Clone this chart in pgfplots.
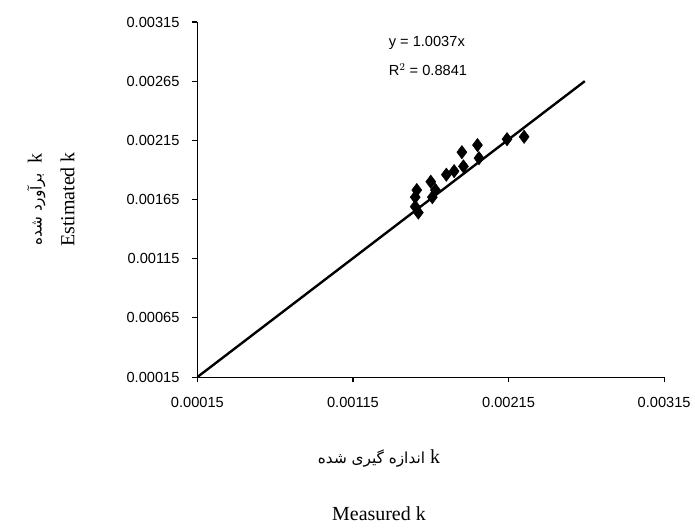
\documentclass[border=0pt]{standalone}
\usepackage{pgfplots}
\pgfplotsset{compat=1.18}
\usepackage{fontspec}
\setmainfont{Liberation Sans}
\newfontfamily\serif{Liberation Serif}
\newfontfamily\arabicfont[Script=Arabic]{DejaVu Sans}
\TeXXeTstate=1
\begin{document}
\begin{tikzpicture}
\begin{axis}[
  scale only axis, width=351pt, height=267pt,
  xmin=0.00015, xmax=0.00315, ymin=0.00015, ymax=0.00315,
  scaled ticks=false,
  axis lines=left, axis line style={-, thick},
  xtick={0.00015,0.00115,0.00215,0.00315},
  ytick={0.00015,0.00065,0.00115,0.00165,0.00215,0.00265,0.00315},
  xticklabels={0.00015,0.00115,0.00215,0.00315},
  yticklabels={0.00015,0.00065,0.00115,0.00165,0.00215,0.00265,0.00315},
  tick style={thick, black}, tick align=outside, major tick length=4pt,
  ticklabel style={font=\fontsize{11}{13}\selectfont},
  xticklabel style={yshift=-8pt},
  yticklabel style={xshift=-6pt},
  clip=false,
]
\path (rel axis cs:-0.423,-0.427) rectangle (rel axis cs:1.062,1.062);
\addplot[only marks, mark=diamond*, mark size=5pt, black] coordinates {
(0.00155,0.00167) (0.00157,0.00154) (0.00155,0.00159) (0.00156,0.00173)
(0.00165,0.00180) (0.00166,0.00167) (0.00168,0.00173) (0.00175,0.00186)
(0.00180,0.00189) (0.00185,0.00205) (0.00186,0.00193) (0.00195,0.00211)
(0.00196,0.00200) (0.00214,0.00216) (0.00225,0.00218)};
\addplot[black, line width=1.8pt] coordinates {(0.00015,0.00015) (0.00264,0.00265)};
\node[anchor=west, font=\fontsize{11}{13}\selectfont] at (rel axis cs:0.40,0.94) {y = 1.0037x};
\node[anchor=west, font=\fontsize{11}{13}\selectfont] at (rel axis cs:0.40,0.865) {R$^2$ = 0.8841};
\node[font=\serif\fontsize{15}{17}\selectfont] at (rel axis cs:0.389,-0.23) {{\arabicfont\fontsize{11.5}{13}\selectfont\beginR اندازه گیری شده\endR} k};
\node[font=\serif\fontsize{15}{17}\selectfont] at (rel axis cs:0.389,-0.385) {Measured k};
\node[rotate=90, font=\serif\fontsize{15}{17}\selectfont] at (rel axis cs:-0.345,0.5) {{\arabicfont\fontsize{11.5}{13}\selectfont\beginR برآورد شده\endR} \ k};
\node[rotate=90, font=\serif\fontsize{15}{17}\selectfont] at (rel axis cs:-0.278,0.5) {Estimated k};
\end{axis}
\end{tikzpicture}
\end{document}
